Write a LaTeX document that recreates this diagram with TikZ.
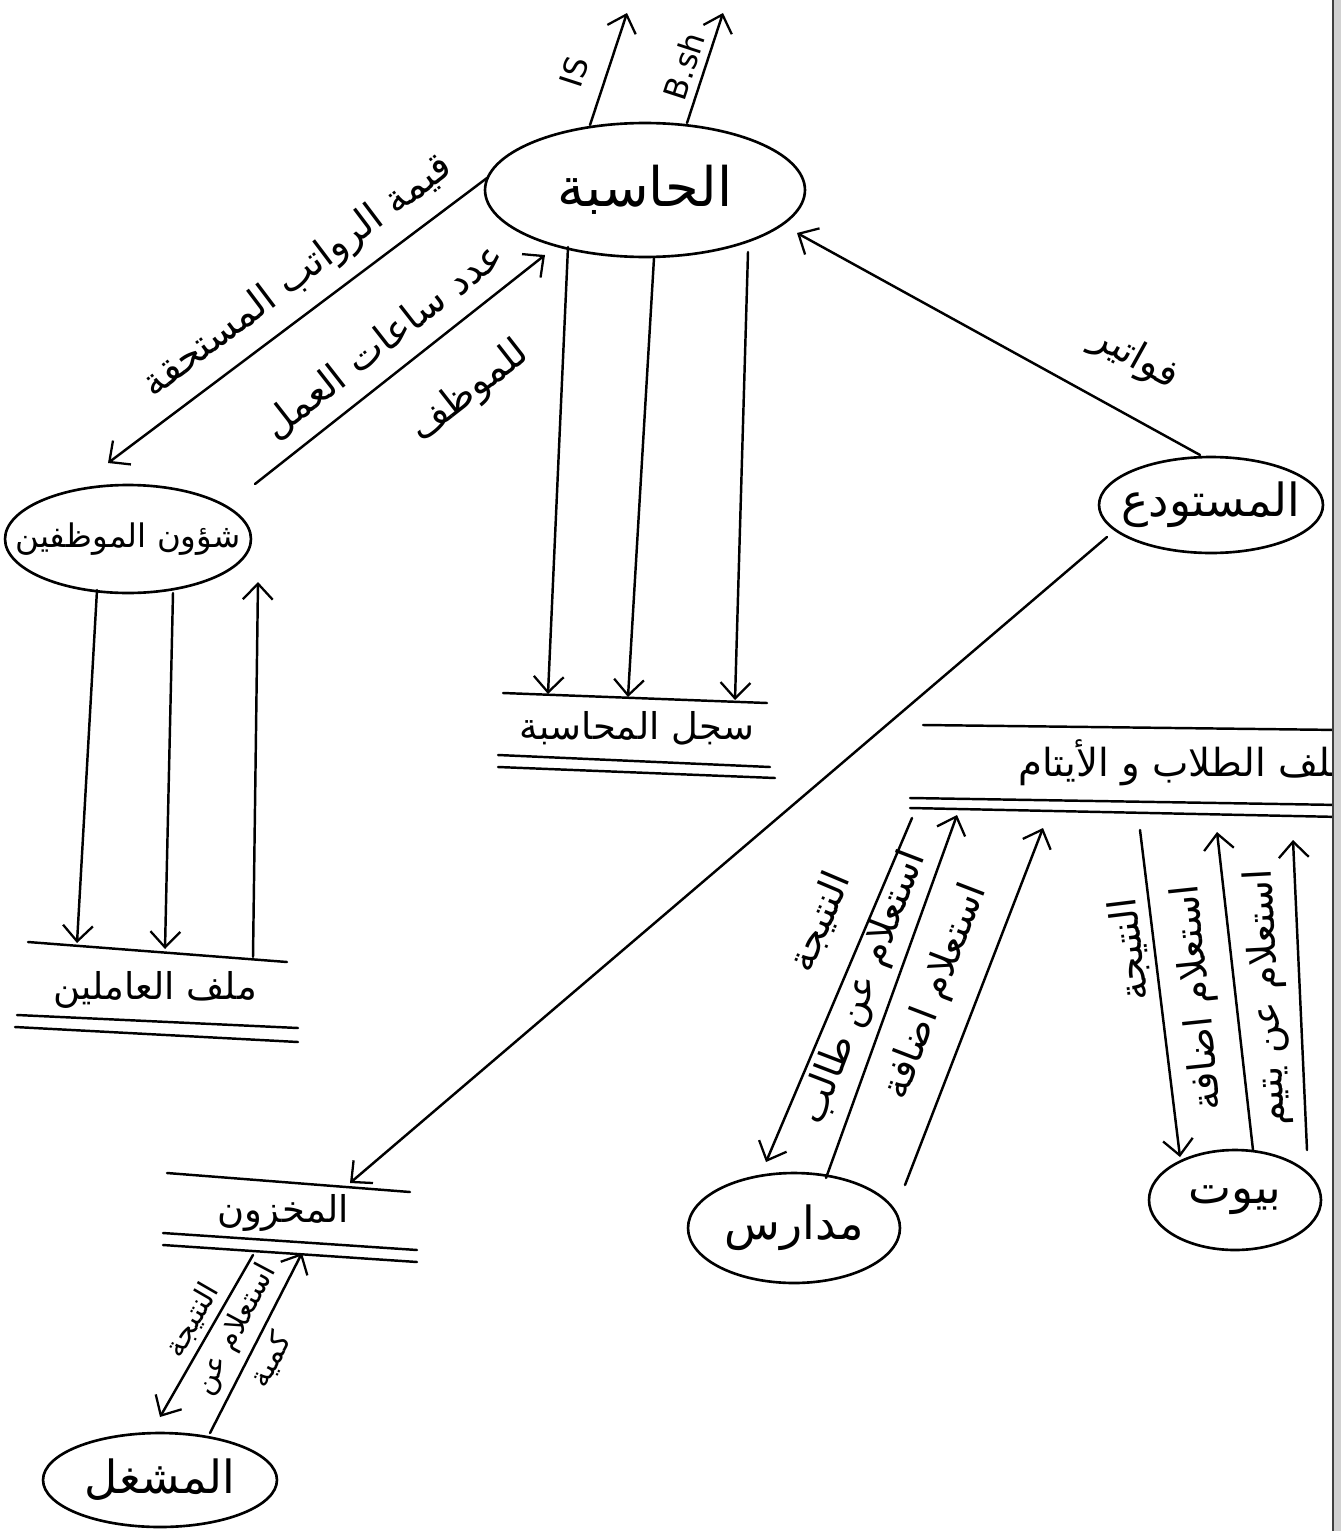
\documentclass[tikz,border=0pt]{standalone}
\usepackage{fontspec}
\usetikzlibrary{shapes.geometric,arrows.meta}
\newfontfamily\arabicfont[Script=Arabic]{DejaVu Sans}
\newfontfamily\latinfont{DejaVu Sans}
\TeXXeTstate=1
\newcommand{\rtl}[1]{\beginR #1\endR}
% label of fixed zero width, so an ellipse keeps the size it is given
\newcommand{\inside}[1]{\makebox[0pt]{\beginR #1\endR}}

\begin{document}
\begin{tikzpicture}[x=0.02cm,y=-0.02cm,
  pen/.style={line width=1.4pt, line cap=round, line join=round},
  flow/.style={pen, -{Straight Barb[length=9pt,width=17pt,line width=1.3pt]}},
  proc/.style={ellipse, draw, line width=1.5pt, inner sep=0pt,
    font=\arabicfont\fontsize{26}{30}\selectfont},
  lab/.style={font=\arabicfont\fontsize{22}{26}\selectfont, inner sep=1pt},
  slab/.style={font=\arabicfont\fontsize{17}{20}\selectfont, inner sep=1pt},
  storetext/.style={font=\arabicfont\fontsize{21}{25}\selectfont, inner sep=1pt},
  latinlab/.style={font=\latinfont\fontsize{18}{21}\selectfont, inner sep=1pt}
]
\useasboundingbox (0,0) rectangle (1341,1531);
\fill[white] (0,0) rectangle (1341,1531);

% ---------- processes ----------
\node[proc, minimum width=6.4cm, minimum height=2.68cm,
      font=\arabicfont\fontsize{31}{36}\selectfont] (acc) at (645,190) {\inside{الحاسبة}};
\node[proc, minimum width=4.92cm, minimum height=2.16cm,
      font=\arabicfont\fontsize{18.5}{22}\selectfont] (hr) at (128,539) {\inside{شؤون الموظفين}};
\node[proc, minimum width=4.48cm, minimum height=1.92cm] (wh) at (1211,505) {\inside{المستودع}};
\node[proc, minimum width=4.24cm, minimum height=2.2cm] (sch) at (794,1228) {\inside{مدارس}};
\node[proc, minimum width=3.44cm, minimum height=2.0cm] (hom) at (1235,1200) {\inside{بيوت}};
\node[proc, minimum width=4.68cm, minimum height=1.88cm] (opr) at (160,1480) {\inside{المشغل}};

% ---------- data stores ----------
\draw[pen] (503,693) -- (767,703);
\draw[pen] (498,755) -- (770,767);
\draw[pen] (498,767) -- (775,778);
\node[storetext] (rec) at (637,728) {\rtl{سجل المحاسبة}};

\draw[pen] (28,942) -- (287,962);
\draw[pen] (17,1015) -- (298,1028);
\draw[pen] (15,1027) -- (298,1042);
\node[storetext] (staff) at (155,990) {\rtl{ملف العاملين}};

\draw[pen] (923,725) -- (1341,730);
\draw[pen] (910,798) -- (1341,805);
\draw[pen] (910,808) -- (1341,817);
\node[storetext, font=\arabicfont\fontsize{22}{26}\selectfont, anchor=east] (stud) at (1354,763) {\rtl{ملف الطلاب و الأيتام}};

\draw[pen] (167,1173) -- (410,1192);
\draw[pen] (163,1233) -- (417,1250);
\draw[pen] (163,1245) -- (417,1262);
\node[storetext] (inv) at (283,1213) {\rtl{المخزون}};

% ---------- connector end points ----------
\coordinate (accIS) at (590,125);   \coordinate (outIS) at (627,13);
\coordinate (accBS) at (687,123);   \coordinate (outBS) at (723,13);
\coordinate (accW) at (487,178);    \coordinate (hrN) at (108,463);
\coordinate (hrNE) at (255,484);    \coordinate (accSW) at (545,255);
\coordinate (whN) at (1200,455);    \coordinate (accE) at (797,233);
\coordinate (accS1) at (568,247);   \coordinate (recN1) at (548,694);
\coordinate (accS2) at (654,258);   \coordinate (recN2) at (628,697);
\coordinate (accS3) at (748,252);   \coordinate (recN3) at (735,700);
\coordinate (hrS1) at (97,590);     \coordinate (staffN1) at (77,943);
\coordinate (hrS2) at (173,593);    \coordinate (staffN2) at (165,949);
\coordinate (staffN3) at (253,957); \coordinate (hrS3) at (258,582);
\coordinate (whSW) at (1107,537);   \coordinate (invN) at (350,1183);
\coordinate (invS1) at (253,1255);  \coordinate (oprN1) at (160,1417);
\coordinate (oprN2) at (210,1433);  \coordinate (invS2) at (302,1253);
\coordinate (studS1) at (912,818);  \coordinate (schN1) at (766,1162);
\coordinate (schN2) at (826,1178);  \coordinate (studS2) at (957,815);
\coordinate (schN3) at (905,1185);  \coordinate (studS3) at (1043,828);
\coordinate (studS4) at (1140,830); \coordinate (homN1) at (1180,1157);
\coordinate (homN2) at (1253,1150); \coordinate (studS5) at (1217,832);
\coordinate (homN3) at (1307,1150); \coordinate (studS6) at (1293,840);

% ---------- flows ----------
\draw[flow] (accIS) -- (outIS);
\draw[flow] (accBS) -- (outBS);
\node[latinlab, rotate=72] (lIS) at (574,72) {IS};
\node[latinlab, rotate=72] (lBS) at (684,66) {B.sh};

\draw[flow] (accW) -- (hrN);
\draw[flow] (hrNE) -- (accSW);
\node[lab, rotate=37] (lpay) at (298,277) {\rtl{قيمة الرواتب المستحقة}};
\node[lab, rotate=38] (lhours) at (384,341) {\rtl{عدد ساعات العمل}};
\node[lab, rotate=38] (lemp) at (470,392) {\rtl{للموظف}};

\draw[flow] (whN) -- (accE);
\node[lab, rotate=-29] (linv) at (1135,358) {\rtl{فواتير}};

\draw[flow] (accS1) -- (recN1);
\draw[flow] (accS2) -- (recN2);
\draw[flow] (accS3) -- (recN3);

\draw[flow] (hrS1) -- (staffN1);
\draw[flow] (hrS2) -- (staffN2);
\draw[flow] (staffN3) -- (hrS3);

\draw[flow] (whSW) -- (invN);

\draw[flow] (invS1) -- (oprN1);
\draw[flow] (oprN2) -- (invS2);
\node[slab, rotate=60] (lres1) at (192,1320) {\rtl{النتيجة}};
\node[slab, rotate=62] (lqty1) at (236,1330) {\rtl{استعلام عن}};
\node[slab, rotate=62] (lqty2) at (271,1360) {\rtl{كمية}};

\draw[flow] (studS1) -- (schN1);
\draw[flow] (schN2) -- (studS2);
\draw[flow] (schN3) -- (studS3);
\node[lab, rotate=67] (lres2) at (820,922) {\rtl{النتيجة}};
\node[lab, rotate=69] (lstu) at (864,988) {\rtl{استعلام عن طالب}};
\node[lab, rotate=69] (ladd1) at (936,992) {\rtl{استعلام اضافة}};

\draw[flow] (studS4) -- (homN1);
\draw[flow] (homN2) -- (studS5);
\draw[flow] (homN3) -- (studS6);
\node[lab, rotate=97] (lres3) at (1130,950) {\rtl{النتيجة}};
\node[lab, rotate=96] (ladd2) at (1199,998) {\rtl{استعلام اضافة}};
\node[lab, rotate=93] (lorph) at (1268,998) {\rtl{استعلام عن يتيم}};

% ---------- sheet edge ----------
\fill[black!18] (1333,0) rectangle (1341,1531);
\draw[line width=1.1pt, black!75] (1333,0) -- (1333,1531);
\end{tikzpicture}
\end{document}
